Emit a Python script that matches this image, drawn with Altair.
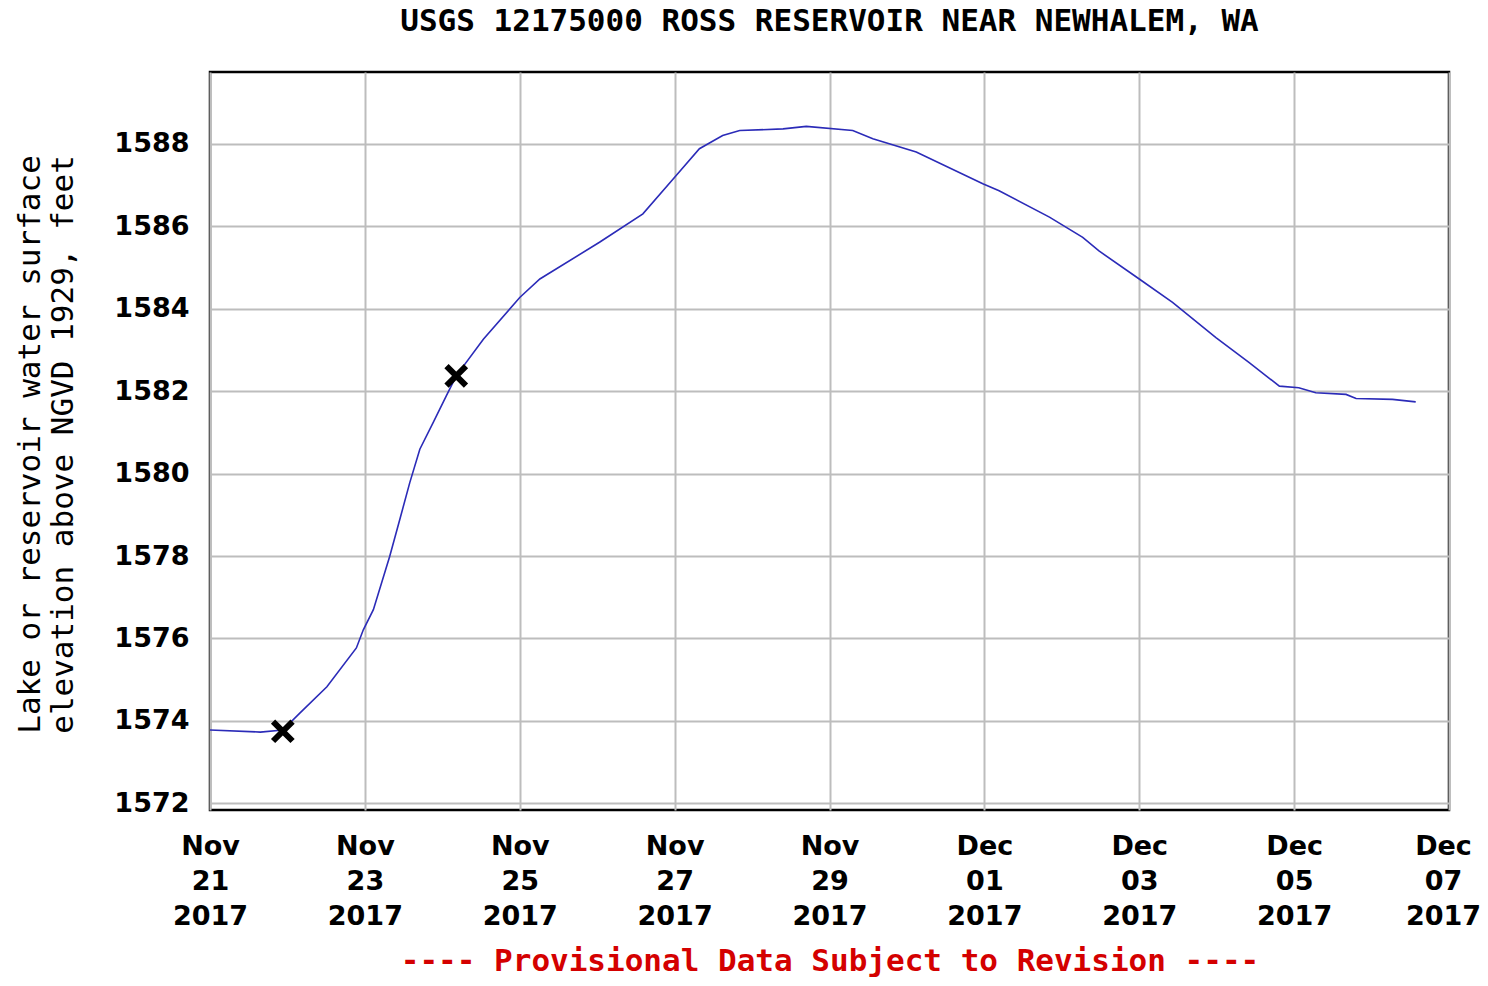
import altair as alt
import pandas as pd

# Time stamps (local) and elevations
times = [
    "2017-11-21T00:00", "2017-11-21T15:36", "2017-11-21T22:34", "2017-11-22T03:50",
    "2017-11-22T12:14", "2017-11-22T21:22", "2017-11-22T23:31", "2017-11-23T02:38",
    "2017-11-23T07:41", "2017-11-23T10:48", "2017-11-23T13:55", "2017-11-23T17:02",
    "2017-11-23T21:07", "2017-11-24T01:12", "2017-11-24T04:19", "2017-11-24T12:43",
    "2017-11-25T00:00", "2017-11-25T06:14", "2017-11-26T00:43", "2017-11-26T14:10",
    "2017-11-27T00:29", "2017-11-27T07:41", "2017-11-27T14:53", "2017-11-27T20:10",
    "2017-11-28T09:36", "2017-11-28T16:48", "2017-11-29T07:12", "2017-11-29T13:26",
    "2017-11-30T02:53", "2017-11-30T23:31", "2017-12-01T04:34", "2017-12-01T20:10",
    "2017-12-02T06:29", "2017-12-02T11:31", "2017-12-03T00:00", "2017-12-03T10:19",
    "2017-12-03T23:46", "2017-12-04T10:05", "2017-12-04T19:26", "2017-12-05T01:26",
    "2017-12-05T06:43", "2017-12-05T16:05", "2017-12-05T19:12", "2017-12-06T06:29",
    "2017-12-06T13:41",
]
elevation = [
    1573.78, 1573.73, 1573.78, 1574.19,
    1574.83, 1575.77, 1576.21, 1576.70,
    1577.99, 1578.88, 1579.78, 1580.59,
    1581.23, 1581.88, 1582.37, 1583.26,
    1584.27, 1584.72, 1585.61, 1586.30,
    1587.23, 1587.88, 1588.20, 1588.32,
    1588.36, 1588.42, 1588.32, 1588.12,
    1587.80, 1587.03, 1586.86, 1586.22,
    1585.73, 1585.40, 1584.72, 1584.15,
    1583.30, 1582.69, 1582.12, 1582.08,
    1581.96, 1581.92, 1581.82, 1581.80,
    1581.74,
]

# Marked points (black X)
mark_times = ["2017-11-21T22:34", "2017-11-24T04:19"]
mark_elev = [1573.75, 1582.37]

# Axis ticks
y_ticks = [1572, 1574, 1576, 1578, 1580, 1582, 1584, 1586, 1588]
x_tick_days = [(11, 21), (11, 23), (11, 25), (11, 27), (11, 29),
               (12, 1), (12, 3), (12, 5), (12, 7)]

title_text = "USGS 12175000 ROSS RESERVOIR NEAR NEWHALEM, WA"
y_title = ["Lake or reservoir water surface", "elevation above NGVD 1929, feet"]
x_title = "---- Provisional Data Subject to Revision ----"

df = pd.DataFrame({"time": times, "elev": elevation})
dm = pd.DataFrame({"time": mark_times, "elev": mark_elev})

x_values = [alt.DateTime(year=2017, month=m, date=d) for m, d in x_tick_days]

x_enc = alt.X(
    "time:T",
    scale=alt.Scale(domain=[alt.DateTime(year=2017, month=11, date=21),
                            alt.DateTime(year=2017, month=12, date=7)]),
    axis=alt.Axis(
        values=x_values,
        labelExpr="[timeFormat(datum.value, '%b'), timeFormat(datum.value, '%d'), timeFormat(datum.value, '%Y')]",
        labelFont="DejaVu Sans",
        labelFontWeight="bold",
        labelFontSize=27,
        labelColor="black",
        labelLineHeight=35,
        labelPadding=23,
        labelBaseline="top",
        labelAlign="center",
        labelOffset={
            "condition": {"test": "month(datum.value) == 11 && date(datum.value) == 7", "value": -6},
            "value": 0,
        },
        labelFlush=False,
        labelOverlap=False,
        labelBound=False,
        ticks=False,
        domain=False,
        grid=True,
        gridColor="#bdbdbd",
        gridWidth=2,
        title=x_title,
        titleFont="DejaVu Sans Mono",
        titleFontWeight="bold",
        titleFontSize=31,
        titleColor="#d40000",
        titleX=619.5,
        titleY=160,
        titleAlign="center",
        titleBaseline="alphabetic",
        titleAngle=0,
    ),
)

y_enc = alt.Y(
    "elev:Q",
    scale=alt.Scale(domain=[1571.84, 1589.74], nice=False, zero=False),
    axis=alt.Axis(
        values=y_ticks,
        format="d",
        labelFont="DejaVu Sans",
        labelFontWeight="bold",
        labelFontSize=27,
        labelColor="black",
        labelPadding=21,
        labelBaseline="middle",
        ticks=False,
        domain=False,
        grid=True,
        gridColor="#bdbdbd",
        gridWidth=2,
        title=y_title,
        titleFont="DejaVu Sans Mono",
        titleFontWeight="normal",
        titleFontSize=31,
        titleColor="black",
        titleLineHeight=33,
        titleAngle=270,
        titleX=-180,
        titleY=372,
        titleAlign="center",
        titleBaseline="middle",
    ),
)

line = alt.Chart(df).mark_line(color="#2b2bb8", strokeWidth=1.6).encode(x=x_enc, y=y_enc)

marks = alt.Chart(dm).mark_point(
    shape="M-1,-1L1,1M1,-1L-1,1",
    size=380,
    stroke="black",
    strokeWidth=6,
    filled=False,
    opacity=1,
).encode(x="time:T", y="elev:Q")

chart = (
    alt.layer(line, marks)
    .properties(
        width=1239,
        height=738,
        title=alt.TitleParams(
            text=title_text,
            font="DejaVu Sans Mono",
            fontSize=31,
            fontWeight="bold",
            color="black",
            anchor="middle",
            offset=34,
        ),
        padding={"left": 202, "top": 64, "right": 31, "bottom": 168},
        autosize=alt.AutoSizeParams(type="none"),
        background="white",
    )
    .configure_view(stroke="black", strokeWidth=2.5)
)

chart.save("out.html", embed_options={"renderer": "svg", "actions": False})
